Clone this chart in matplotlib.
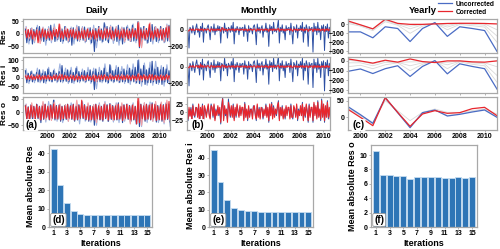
import numpy as np
import matplotlib
matplotlib.use("Agg")
import matplotlib.pyplot as plt

plt.rcParams["font.family"] = ["Liberation Sans", "DejaVu Sans"]
plt.rcParams["font.weight"] = "bold"
plt.rcParams["axes.labelweight"] = "bold"

# ===============================
# DATA
# ===============================
BLUE = "#2c4fa3"
LBLUE = "#9fb3e0"
RED = "#e8262d"
LRED = "#f4a0a4"
GRAY_SPINE = "#a8a8a8"

row_names = ["Res", "Res i", "Res o"]

# daily residuals, 8 samples per year (1998-2010)
daily_unc_res = [
    20, -35, 15, -25, 22, -40, 18, -20,
    25, -22, 30, -28, 15, -30, 20, -25,
    18, -25, 35, -20, 22, -30, 15, -22,
    25, -30, 20, -28, 30, -25, 18, -30,
    22, -45, 25, -20, 18, -28, 30, -22,
    20, -25, 28, -30, 15, -22, 25, -35,
    18, -70, 22, -28, 30, -25, 20, -30,
    45, -25, 30, -35, 25, -20, 28, -25,
    22, -30, 35, -25, 20, -40, 25, -22,
    28, -25, 20, -30, 35, -28, 22, -25,
    50, -55, 25, -30, 30, -25, 22, -35,
    25, -30, 38, -22, 28, -30, 20, -25,
    30, -25, 22, -32, 25, -28, 35, -22]
daily_cor_res = [
    12, -15, 18, -10, 15, -20, 10, -12,
    15, -35, 12, -15, 20, -12, 15, -18,
    10, -15, 12, -20, 15, -10, 18, -12,
    40, -15, 12, -18, 15, -12, 20, -15,
    15, -12, 18, -15, 10, -20, 12, -15,
    12, -18, 15, -12, 20, -15, 10, -12,
    15, -20, 12, -15, 18, -12, 15, -20,
    12, -15, 20, -12, 15, -18, 12, -15,
    18, -12, 15, -20, 12, -15, 18, -12,
    15, -18, 12, -15, 20, -12, 15, -18,
    45, -50, 18, -15, 12, -20, 15, -12,
    40, -15, 12, -18, 15, -12, 20, -15,
    15, -20, 18, -12, 25, -15, 30, -20]
daily_unc_resi = [
    40, -30, 25, -20, 35, -25, 20, -15,
    30, -25, 45, -20, 25, -30, 35, -20,
    50, -20, 30, -25, 40, -18, 25, -22,
    35, -25, 70, -20, 30, -22, 45, -25,
    40, -30, 30, -20, 55, -25, 35, -20,
    30, -20, 40, -25, 30, -18, 45, -25,
    35, -70, 50, -22, 30, -25, 40, -20,
    55, -25, 30, -30, 75, -20, 40, -25,
    45, -20, 60, -28, 35, -25, 50, -22,
    40, -30, 55, -20, 45, -25, 60, -30,
    100, -35, 50, -25, 70, -40, 45, -30,
    55, -30, 95, -25, 50, -35, 60, -28,
    45, -40, 60, -25, 50, -30, 40, -25]
daily_cor_resi = [
    8, -10, 12, -8, 10, -12, 8, -10,
    10, -8, 15, -12, 8, -10, 12, -8,
    12, -10, 8, -12, 10, -8, 15, -10,
    10, -12, 18, -10, 12, -8, 10, -12,
    8, -10, 12, -15, 10, -12, 8, -10,
    12, -8, 10, -12, 15, -10, 8, -12,
    10, -20, 12, -8, 10, -12, 15, -10,
    15, -10, 8, -12, 12, -10, 10, -8,
    10, -12, 15, -10, 8, -12, 12, -10,
    12, -10, 10, -15, 12, -8, 10, -12,
    20, -15, 12, -10, 15, -12, 10, -10,
    15, -12, 18, -10, 12, -15, 10, -12,
    12, -15, 10, -12, 15, -10, 12, -8]
daily_unc_reso = [
    25, -30, 20, -35, 28, -25, 22, -30,
    30, -25, 22, -40, 25, -28, 30, -22,
    22, -30, 28, -25, 45, -30, 25, -28,
    28, -35, 22, -30, 25, -28, 30, -25,
    25, -28, 30, -35, 22, -30, 28, -25,
    35, -25, 28, -30, 22, -35, 25, -30,
    22, -50, 30, -28, 25, -30, 22, -35,
    30, -25, 28, -35, 32, -28, 25, -30,
    25, -30, 35, -28, 22, -40, 28, -25,
    30, -28, 25, -35, 28, -30, 22, -45,
    40, -55, 30, -28, 25, -35, 30, -28,
    28, -30, 35, -25, 30, -38, 25, -30,
    30, -35, 28, -30, 35, -28, 30, -55]
daily_cor_reso = [
    22, -25, 18, -28, 25, -20, 20, -25,
    28, -22, 20, -30, 22, -25, 28, -20,
    20, -28, 25, -22, 30, -25, 22, -25,
    25, -30, 20, -25, 22, -25, 28, -22,
    22, -25, 28, -30, 20, -28, 25, -22,
    45, -22, 25, -28, 20, -30, 22, -28,
    20, -30, 28, -25, 22, -28, 20, -30,
    28, -22, 25, -30, 28, -25, 22, -28,
    22, -28, 30, -25, 20, -32, 25, -22,
    28, -25, 22, -30, 25, -28, 20, -45,
    55, -40, 28, -25, 22, -30, 28, -25,
    25, -28, 30, -22, 28, -32, 22, -28,
    28, -30, 25, -28, 30, -25, 40, -35]

# intermediate iterations, 4 samples per year
daily_mid_unc_res = [30, -40, 25, -35, 35, -30, 28, -45, 30, -35, 40, -28, 25, -38, 30, -35,
                     28, -40, 35, -30, 30, -35, 25, -40, 35, -55, 30, -35, 40, -30, 35, -38,
                     30, -45, 28, -35, 35, -30, 40, -35, 45, -50, 30, -38, 35, -40, 30, -35,
                     28, -35, 40, -30]
daily_mid_cor_res = [25, -20, 22, -28, 20, -38, 25, -22, 22, -25, 28, -20, 38, -22, 25, -28,
                     22, -20, 28, -25, 25, -28, 20, -22, 22, -25, 28, -20, 25, -22, 30, -25,
                     28, -20, 25, -30, 22, -28, 25, -20, 48, -55, 25, -22, 45, -25, 28, -22,
                     25, -30, 35, -25]
daily_mid_unc_resi = [50, -35, 40, -30, 55, -30, 45, -35, 60, -25, 50, -30, 80, -30, 55, -35,
                      60, -35, 65, -30, 50, -30, 60, -35, 55, -65, 60, -30, 80, -35, 70, -30,
                      70, -30, 65, -35, 75, -40, 80, -35, 105, -50, 85, -45, 90, -45, 95, -40,
                      70, -50, 75, -40]
daily_mid_cor_resi = [15, -12, 18, -10, 20, -15, 12, -10, 15, -12, 18, -15, 22, -12, 15, -18,
                      18, -15, 20, -12, 15, -18, 12, -15, 20, -25, 15, -12, 18, -15, 22, -12,
                      15, -18, 20, -15, 18, -12, 15, -20, 25, -20, 18, -15, 20, -18, 15, -12,
                      18, -15, 20, -18]
daily_mid_unc_reso = [30, -35, 25, -40, 28, -30, 35, -38, 40, -30, 45, -35, 30, -40, 28, -35,
                      35, -30, 30, -45, 40, -35, 30, -38, 28, -50, 35, -30, 40, -35, 30, -38,
                      35, -40, 30, -35, 30, -38, 35, -45, 40, -55, 35, -40, 38, -35, 30, -40,
                      35, -45, 30, -38]
daily_mid_cor_reso = [28, -30, 35, -25, 22, -28, 40, -30, 25, -32, 38, -28, 30, -25, 28, -35,
                      25, -30, 45, -28, 30, -25, 35, -30, 28, -40, 30, -25, 35, -30, 28, -32,
                      30, -28, 35, -30, 28, -45, 30, -25, 55, -50, 35, -28, 30, -35, 40, -30,
                      38, -40, 45, -30]

# monthly residuals, Jan 1998 - Dec 2010
monthly_unc_res = [
    0, 10, 60, -20, -220, 30, 10, -40, 50, -10, -60, 20,
    70, -30, 10, -90, 40, -20, 80, -150, 20, 10, -40, 30,
    60, -20, -120, 40, 10, -30, 70, -60, 20, -20, 50, -10,
    40, -160, 30, 10, -40, 80, -20, 20, -100, 30, 10, -30,
    50, -20, 90, -170, 20, -30, 40, 10, -60, 30, -10, 20,
    30, -80, 60, -20, 10, -140, 50, -30, 20, 10, -50, 40,
    60, -10, -180, 70, -20, 30, -40, 20, 50, -90, 10, -20,
    80, -30, 20, -200, 60, -10, 40, -50, 90, -20, 10, -30,
    40, 120, -160, 30, -20, 60, -40, 10, -120, 50, -10, 20,
    30, -60, 80, -20, -170, 40, 10, -30, 60, -100, 20, -10,
    50, -20, 90, -150, 30, -40, 60, 10, -200, 40, -10, 20,
    30, -270, 80, -20, 40, -60, 90, -30, 20, -120, 50, -10,
    60, -250, 40, -20, 70, -100, 30, -40, 80, -150, 20, 0]
monthly_cor_res = [
    5, -8, 10, -15, -12, 8, 5, -10, 12, -5, -8, 6,
    10, -6, 8, -12, 10, -5, 12, -15, 6, 4, -8, 10,
    8, -5, -20, 12, 6, -10, 10, -12, 5, -6, 10, -4,
    6, -18, 10, 25, -10, 12, -6, 5, -15, 8, 4, -6,
    8, -5, 12, -15, 6, -8, 10, 4, -10, 6, -4, 5,
    6, -10, 10, -5, 4, -15, 8, -6, 5, 4, -8, 6,
    10, -4, -18, 12, -6, 8, -10, 5, 8, -12, 4, -5,
    12, -6, 5, -20, 10, -4, 8, -10, 12, -5, 4, -6,
    8, 15, -18, 6, -5, 10, -8, 4, -15, 8, -4, 5,
    6, -10, 12, -5, -18, 8, 4, -6, 10, -12, 5, -4,
    8, -5, 12, -15, 6, -8, 10, 4, -20, 8, -4, 5,
    6, -22, 12, -5, 8, -10, 12, -6, 5, -15, 8, -4,
    10, -20, 8, -5, 12, -12, 6, -8, 10, -15, 5, 0]
monthly_unc_resi = [
    10, 20, 70, -30, -230, 40, 10, -50, 60, -10, -70, 30,
    80, -20, 20, -100, 50, -30, 90, -160, 30, 10, -50, 40,
    70, -30, -130, 50, 10, -40, 80, -70, 30, -20, 60, -10,
    50, -170, 40, 20, -50, 100, -20, 30, -110, 40, 10, -30,
    60, -20, 100, -180, 30, -40, 50, 10, -70, 40, -10, 30,
    40, -90, 70, -20, 20, -150, 60, -30, 30, 10, -60, 50,
    70, -10, -190, 80, -20, 40, -50, 30, 60, -100, 20, -20,
    90, -30, 30, -210, 70, -10, 50, -60, 100, -20, 20, -30,
    50, 120, -170, 40, -20, 70, -50, 20, -130, 60, -10, 30,
    40, -70, 90, -20, -180, 50, 20, -30, 70, -110, 30, -10,
    60, -20, 100, -160, 40, -50, 70, 20, -210, 50, -10, 30,
    40, -250, 90, -20, 50, -70, 100, -30, 30, -130, 60, -10,
    70, -290, 50, -20, 80, -110, 40, -50, 90, -160, 30, 10]
monthly_cor_resi = [
    8, -5, 12, -10, -15, 10, 5, -8, 15, -5, -10, 8,
    12, -8, 10, -15, 30, -6, 15, -12, 8, 5, -10, 12,
    10, -6, -15, 15, 8, -12, 12, -10, 6, -8, 12, -5,
    8, -15, 12, 20, -12, 15, -8, 6, -12, 10, 5, -8,
    10, -6, 15, -12, 8, -10, 12, 5, -8, 8, -5, 6,
    8, -12, 12, -6, 5, -15, 10, -8, 6, 5, -10, 8,
    12, -5, -15, 15, -8, 10, -12, 6, 10, -10, 5, -6,
    15, -8, 6, -18, 12, -5, 10, -12, 15, -6, 5, -8,
    10, 15, -15, 8, -6, 12, -10, 5, -12, 10, -5, 6,
    8, -12, 15, -6, -15, 10, 5, -8, 12, -10, 6, -5,
    10, -6, 15, -12, 8, -10, 12, 5, -15, 10, -5, 6,
    8, -18, 15, -6, 10, -12, 15, -8, 6, -12, 10, -5,
    12, -15, 10, -6, 15, -10, 8, -10, 12, -12, 6, 0]
monthly_unc_reso = [
    20, -15, 30, -25, 10, -10, 15, -20, 25, -5, -15, 10,
    15, -10, 20, -35, 10, -5, 25, -40, 15, 5, -10, 10,
    20, -5, -15, 25, 10, -15, 20, -20, 10, -5, 15, -10,
    10, -35, 20, 45, -20, 15, -10, 5, -25, 40, 10, -15,
    15, -10, 25, -20, 10, -15, 20, 5, -10, 15, -5, 10,
    10, -20, 30, -10, 5, -25, 15, -10, 10, 5, -15, 20,
    15, -5, -25, 20, -10, 15, -15, 10, 15, -20, 5, -5,
    25, -10, 10, -30, 20, -5, 30, -15, 20, -10, 5, -10,
    15, 35, -20, 10, -5, 20, -15, 5, -20, 15, -5, 10,
    10, -15, 25, -10, -20, 15, 5, -10, 20, -25, 10, -5,
    15, -5, 30, -20, 10, -15, 20, 5, -30, 25, -10, 10,
    10, -30, 25, -5, 15, -15, 35, -10, 5, -25, 40, -10,
    20, -30, 15, -10, 35, -20, 10, -15, 30, -35, 10, -45]
monthly_cor_reso = [
    25, -20, 25, -20, 15, -12, 10, -25, 20, -8, -10, 15,
    12, -15, 25, -30, 15, -10, 20, -35, 20, 8, -15, 5,
    25, -10, -20, 20, 15, -10, 25, -25, 5, -10, 20, -5,
    15, -30, 15, 40, -25, 20, -5, 10, -30, 30, 15, -10,
    20, -15, 20, -25, 15, -10, 25, 0, -15, 20, -10, 15,
    15, -25, 25, -15, 10, -20, 20, -15, 5, 10, -20, 15,
    20, -10, -20, 25, -15, 10, -20, 15, 10, -15, 10, -10,
    20, -15, 15, -25, 25, -10, 25, -20, 15, -15, 10, -5,
    20, 30, -25, 15, -10, 15, -20, 10, -15, 20, -10, 15,
    15, -20, 20, -15, -15, 20, 10, -15, 25, -20, 5, -10,
    20, -10, 25, -25, 15, -10, 25, 0, -25, 20, -15, 15,
    15, -25, 30, -10, 20, -20, 30, -15, 10, -20, 35, -15,
    25, -25, 20, -15, 30, -15, 15, -20, 25, -30, 15, -40]

# yearly residuals, 1999-2011
years = [1999, 2000, 2001, 2002, 2003, 2004, 2005, 2006, 2007, 2008, 2009, 2010, 2011]
yearly_unc_res = [-84, -84, -150, -27, -46, -192, -46, 20, -134, -27, -46, -69, -302]
yearly_cor_res = [38, -5, -50, 57, 11, 0, 0, 5, 10, 12, 12, 10, 5]
yearly_mid_res = [[10, -20, -70, 30, -10, -100, -20, 15, -60, 0, -15, -30, -200],
                  [25, -10, -55, 45, 0, -50, -5, 10, -30, 10, 0, -10, -130],
                  [32, -5, -52, 52, 8, -20, 0, 8, -10, 12, 10, 5, -60]]
yearly_unc_resi = [-107, -83, -130, -80, -50, -160, -57, 3, -133, -30, -57, -80, -290]
yearly_cor_resi = [20, 0, -23, 7, -13, 20, -7, -17, 0, 0, -10, -13, 0]
yearly_mid_resi = [[-60, -45, -80, -40, -20, -100, -35, 0, -80, -10, -35, -50, -220],
                   [-20, -20, -50, -15, -15, -50, -20, -10, -40, -5, -20, -30, -150],
                   [5, -5, -30, 0, -15, -10, -10, -15, -15, 0, -15, -20, -60]]
yearly_unc_reso = [32, 8, -18, 59, 14, -31, 14, 22, 4, 9, 16, 22, 0]
yearly_cor_reso = [24, 0, -25, 59, 15, -27, 10, 20, 12, 14, 26, 30, 5]
yearly_mid_reso = [[30, 5, -20, 55, 15, -28, 12, 22, 6, 10, 18, 24, 2],
                   [26, 6, -15, 50, 20, -10, 15, 25, 15, 15, 20, 25, 10]]

# mean absolute residual per iteration
iterations = list(range(1, 16))
mae_res = [42.4, 22.9, 13.1, 8.7, 7.2, 6.5, 6.5, 6.5, 6.5, 6.5, 6.5, 6.6, 6.6, 6.5, 6.5]
mae_resi = [44.4, 25.9, 15.8, 11.2, 9.6, 9.0, 9.0, 8.8, 8.8, 8.8, 8.6, 8.6, 8.6, 8.6, 8.6]
mae_reso = [10.6, 7.25, 7.25, 7.1, 7.1, 6.7, 7.0, 6.9, 6.95, 6.95, 6.8, 6.75, 6.9, 6.85, 6.9]

# ===============================
# FIGURE
# ===============================
W, H = 500, 249
fig = plt.figure(figsize=(W / 100, H / 100), dpi=100)


def px_axes(x0, y0, x1, y1):
    return fig.add_axes([x0 / W, 1 - y1 / H, (x1 - x0) / W, (y1 - y0) / H])


def style(ax):
    for s in ax.spines.values():
        s.set_color(GRAY_SPINE)
        s.set_linewidth(0.9)
    ax.tick_params(length=1.5, width=0.6, color=GRAY_SPINE, labelsize=5, pad=1)


rows_y = [(19, 53), (57, 93), (97, 130)]
cols_x = [(23, 170), (187, 330), (348, 497)]

daily_x8 = 1998 + (np.arange(len(daily_unc_res)) + 0.5) / 8
daily_x4 = 1998 + (np.arange(len(daily_mid_unc_res)) + 0.5) / 4
month_x = 1998 + (np.arange(len(monthly_unc_res)) + 0.5) / 12

daily = [(daily_mid_unc_res, daily_unc_res, daily_mid_cor_res, daily_cor_res),
         (daily_mid_unc_resi, daily_unc_resi, daily_mid_cor_resi, daily_cor_resi),
         (daily_mid_unc_reso, daily_unc_reso, daily_mid_cor_reso, daily_cor_reso)]
monthly = [(monthly_unc_res, monthly_cor_res),
           (monthly_unc_resi, monthly_cor_resi),
           (monthly_unc_reso, monthly_cor_reso)]
yearly = [(yearly_mid_res, yearly_unc_res, yearly_cor_res),
          (yearly_mid_resi, yearly_unc_resi, yearly_cor_resi),
          (yearly_mid_reso, yearly_unc_reso, yearly_cor_reso)]

d_ylim = [(-76, 60), (-90, 120), (-68, 57)]
d_ticks = [[-50, 0, 50], [-50, 0, 50, 100], [-50, 0, 50]]
m_ylim = [(-280, 130), (-315, 115), (-53, 46)]
m_ticks = [[-200, 0], [-200, 0], [-25, 0, 25]]
y_ylim = [(-320, 60), (-330, 40), (-38, 61)]
y_ticks = [[-300, -200, -100, 0], [-300, -200, -100, 0], [0, 50]]
year_ticks = [2000, 2002, 2004, 2006, 2008, 2010]

for r in range(3):
    y0, y1 = rows_y[r]
    # daily
    ax = px_axes(cols_x[0][0], y0, cols_x[0][1], y1)
    mu, u, mc, c = daily[r]
    ax.plot(daily_x4, mu, color=LBLUE, lw=0.8)
    ax.plot(daily_x8, u, color=BLUE, lw=0.8)
    ax.plot(daily_x4, mc, color=LRED, lw=0.8)
    ax.plot(daily_x8, c, color=RED, lw=0.8)
    ax.set_xlim(1997.85, 2010.9)
    ax.set_ylim(*d_ylim[r])
    ax.set_yticks(d_ticks[r])
    ax.set_ylabel(row_names[r], fontsize=6, labelpad=1)
    ax.yaxis.set_label_coords(-0.105, 0.5)
    ax.set_xticks(year_ticks)
    style(ax)
    if r < 2:
        ax.set_xticklabels([])
    else:
        ax.text(0.015, 0.06, "(a)", transform=ax.transAxes, fontsize=7,
                bbox=dict(boxstyle="round,pad=0.1", fc="white", ec="none"))
    if r == 0:
        ax.set_title("Daily", fontsize=6.8, fontweight="bold", pad=4)

    # monthly
    ax = px_axes(cols_x[1][0], y0, cols_x[1][1], y1)
    u, c = monthly[r]
    ax.plot(month_x, u, color=BLUE, lw=0.7)
    ax.plot(month_x, c, color=RED, lw=0.8)
    ax.set_xlim(1998.2, 2010.6)
    ax.set_ylim(*m_ylim[r])
    ax.set_yticks(m_ticks[r])
    ax.set_xticks(year_ticks)
    style(ax)
    if r < 2:
        ax.set_xticklabels([])
    else:
        ax.text(0.03, 0.06, "(b)", transform=ax.transAxes, fontsize=7,
                bbox=dict(boxstyle="round,pad=0.1", fc="white", ec="none"))
    if r == 0:
        ax.set_title("Monthly", fontsize=6.8, fontweight="bold", pad=4)

    # yearly
    ax = px_axes(cols_x[2][0], y0, cols_x[2][1], y1)
    mids, u, c = yearly[r]
    for m in mids:
        ax.plot(years, m, color="#d9d9d9", lw=0.6)
    ax.plot(years, u, color="#4a6cc4", lw=0.9, label="Uncorrected")
    ax.plot(years, c, color=RED, lw=0.9, label="Corrected")
    ax.set_xlim(1999, 2011)
    ax.set_ylim(*y_ylim[r])
    ax.set_yticks(y_ticks[r])
    ax.set_xticks(year_ticks)
    style(ax)
    if r < 2:
        ax.set_xticklabels([])
    else:
        ax.text(0.03, 0.06, "(c)", transform=ax.transAxes, fontsize=7,
                bbox=dict(boxstyle="round,pad=0.1", fc="white", ec="none"))
    if r == 0:
        ax.set_title("Yearly", fontsize=6.8, fontweight="bold", pad=4)
        ax.legend(loc="lower right", bbox_to_anchor=(1.01, 0.98), frameon=False,
                  fontsize=4.8, handlelength=2.2, labelspacing=0.15,
                  borderpad=0.1, handletextpad=0.5)

# ===============================
# MEAN ABSOLUTE RESIDUAL BARS
# ===============================
bar_axes = [(49, 152), (209, 313), (371, 477)]
bar_data = [mae_res, mae_resi, mae_reso]
bar_ylim = [44.5, 47.5, 11.4]
bar_ticks = [[0, 10, 20, 30, 40], [0, 10, 20, 30, 40], [0, 2, 4, 6, 8, 10]]
bar_tags = ["(d)", "(e)", "(f)"]

for k in range(3):
    ax = px_axes(bar_axes[k][0], 145, bar_axes[k][1], 227)
    ax.bar(iterations, bar_data[k], width=0.88, color="#2e75b6",
           edgecolor="#c5dcf0", linewidth=0.6)
    ax.set_xlim(0.3, 15.7)
    ax.set_ylim(0, bar_ylim[k])
    ax.set_yticks(bar_ticks[k])
    ax.set_xticks(iterations[::2])
    ax.set_xlabel("Iterations", fontsize=6.5, labelpad=1)
    ax.set_ylabel("Mean absolute " + row_names[k], fontsize=6.5, labelpad=2)
    style(ax)
    ax.text(0.03, 0.05, bar_tags[k], transform=ax.transAxes, fontsize=7,
            bbox=dict(boxstyle="round,pad=0.15", fc="white", ec="#999999", lw=0.6))

fig.savefig("out.png", dpi=100)
